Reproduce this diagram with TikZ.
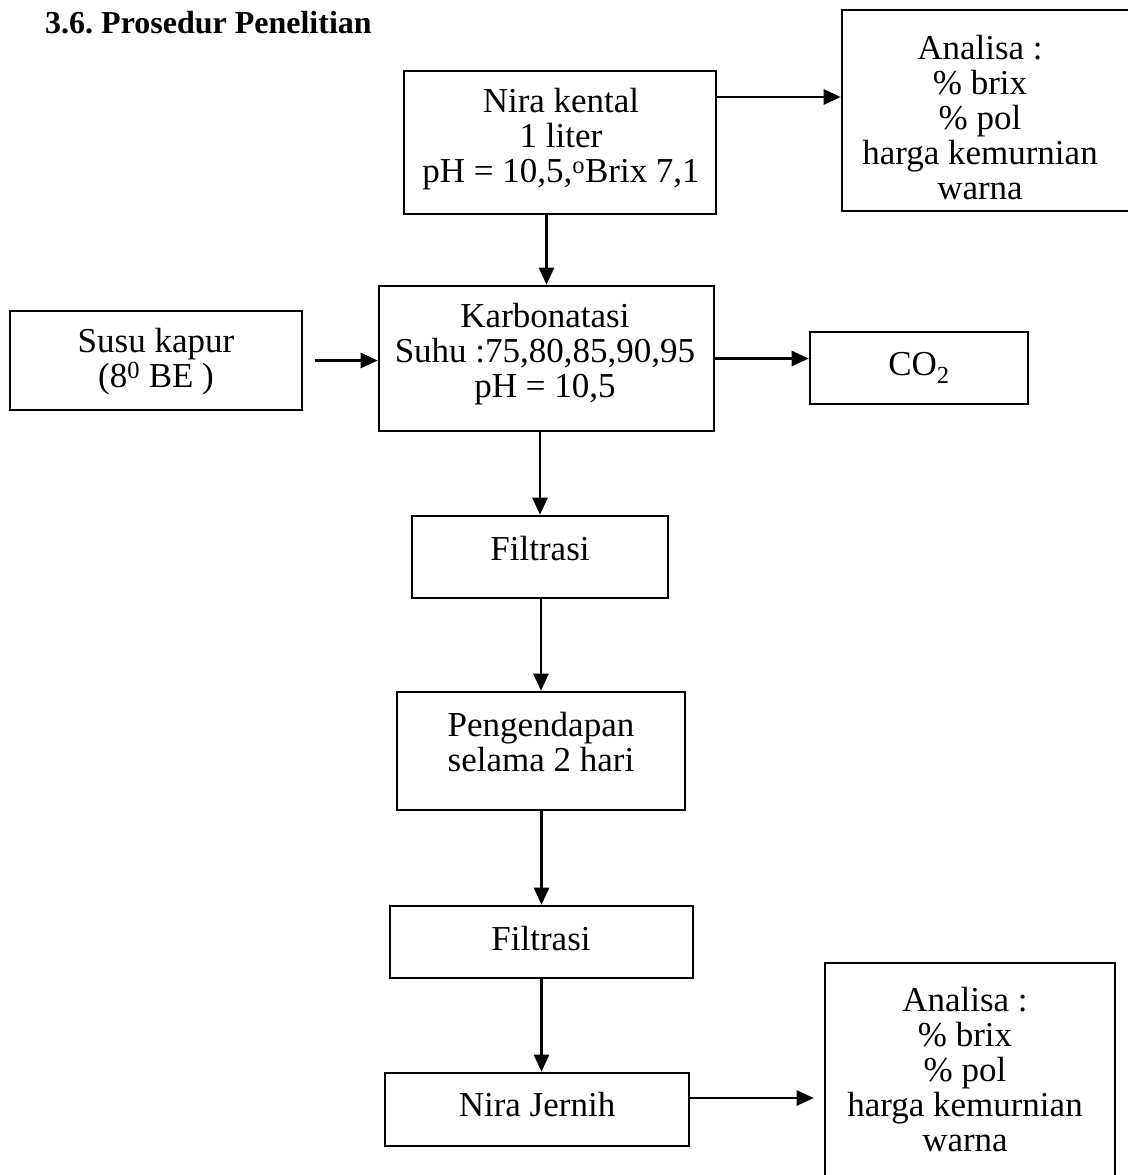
\documentclass[tikz,border=0pt]{standalone}
\usepackage{fontspec}
\setmainfont{Liberation Serif}
\usetikzlibrary{arrows.meta}
\frenchspacing
\begin{document}
\begin{tikzpicture}[x=1pt,y=-1pt,
  box/.style={draw,line width=2.6pt,inner sep=0pt},
  lbl/.style={align=center,font=\fontsize{35}{35}\selectfont,inner sep=0pt},
  arr/.style={line width=2.6pt,-{Triangle[length=17pt,width=15pt]}}]
\useasboundingbox (0,0) rectangle (1127,1175);
% title
\node[anchor=west,inner sep=0pt,font=\bfseries\fontsize{32}{34}\selectfont] (title) at (45,23) {3.6. Prosedur Penelitian};
% boxes
\node[box,minimum width=312pt,minimum height=143pt] (nk) at (560,142.5) {};
\node[box,minimum width=298pt,minimum height=201pt] (anT) at (991,110.5) {};
\node[box,minimum width=292pt,minimum height=99pt] (susu) at (156,360.5) {};
\node[box,minimum width=335pt,minimum height=145pt] (karb) at (546.5,358.5) {};
\node[box,minimum width=218pt,minimum height=72pt] (co2) at (919,368) {};
\node[box,minimum width=256pt,minimum height=82pt] (f1) at (540,557) {};
\node[box,minimum width=288pt,minimum height=118pt] (peng) at (541,751) {};
\node[box,minimum width=303pt,minimum height=72pt] (f2) at (541.5,942) {};
\node[box,minimum width=304pt,minimum height=73pt] (nj) at (537,1109.5) {};
\node[box,minimum width=290pt,minimum height=227pt] (anB) at (970,1076.5) {};
% texts
\node[lbl] (tNk) at (561,139) {Nira kental\\1 liter\\pH = 10,5,\textsuperscript{o}Brix 7,1};
\node[lbl] (tAnT) at (980,118) {Analisa :\\\% brix\\\% pol\\harga kemurnian\\warna};
\node[lbl] (tSusu) at (156,361.5) {Susu kapur\\(8\textsuperscript{0} BE )};
\node[lbl] (tKarb) at (545,354) {Karbonatasi\\Suhu :75,80,85,90,95\\pH = 10,5};
\node[lbl] (tCo2) at (919,368) {CO\textsubscript{2}};
\node[lbl] (tF1) at (540,549) {Filtrasi};
\node[lbl] (tPeng) at (541,742.5) {Pengendapan\\selama 2 hari};
\node[lbl] (tF2) at (541,939) {Filtrasi};
\node[lbl] (tNj) at (537,1105) {Nira Jernih};
\node[lbl] (tAnB) at (965,1070) {Analisa :\\\% brix\\\% pol\\harga kemurnian\\warna};
% connectors
\draw[arr] (nk.east |- 0,97) -- (anT.west |- 0,97);
\draw[arr] (karb.north |- nk.south) -- (karb.north);
\draw[arr] ([xshift=12pt]susu.east) -- (karb.west |- susu.east);
\draw[arr] (karb.east) -- (karb.east -| co2.west);
\draw[arr] (f1.north |- karb.south) -- (f1.north);
\draw[arr] (peng.north |- f1.south) -- (peng.north);
\draw[arr] (f2.north |- peng.south) -- (f2.north);
\draw[arr] (f2.south) -- (f2.south |- nj.north);
\path (nj.east) ++(0,-11.5) coordinate (p9);
\draw[arr,shorten >=10pt] (p9) -- (p9 -| anB.west);
\end{tikzpicture}
\end{document}
